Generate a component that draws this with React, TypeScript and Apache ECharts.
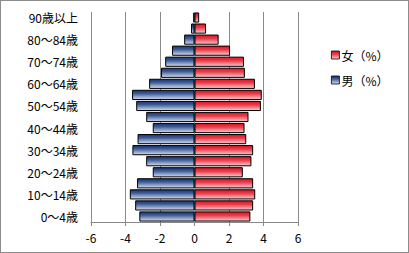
import React, { useEffect, useRef } from "react";
import * as echarts from "echarts";

const categories = [
  "0〜4歳", "5〜9歳", "10〜14歳", "15〜19歳", "20〜24歳", "25〜29歳", "30〜34歳",
  "35〜39歳", "40〜44歳", "45〜49歳", "50〜54歳", "55〜59歳", "60〜64歳", "65〜69歳",
  "70〜74歳", "75〜79歳", "80〜84歳", "85〜89歳", "90歳以上",
];
const maleValues = [
  -3.2, -3.44, -3.75, -3.33, -2.42, -2.8, -3.6, -3.3, -2.42, -2.8,
  -3.38, -3.62, -2.63, -1.94, -1.7, -1.3, -0.6, -0.2, -0.07,
];
const femaleValues = [
  3.24, 3.4, 3.52, 3.4, 2.8, 3.3, 3.4, 3.0, 2.9, 3.13,
  3.85, 3.9, 3.5, 2.92, 2.87, 2.06, 1.4, 0.67, 0.27,
];
const xTicks = { min: -6, max: 6, interval: 2 };
const femaleName = "女（%）";
const maleName = "男（%）";

const FONT = "'Noto Sans CJK JP', sans-serif";

export default function App() {
  const ref = useRef<HTMLDivElement>(null);
  useEffect(() => {
    if (!ref.current) return;
    const chart = echarts.init(ref.current, null, { renderer: "svg" });
    const blue = new echarts.graphic.LinearGradient(0, 0, 0, 1, [
      { offset: 0, color: "#1a3470" },
      { offset: 0.35, color: "#3c5a96" },
      { offset: 1, color: "#d6deef" },
    ]);
    const red = new echarts.graphic.LinearGradient(0, 0, 0, 1, [
      { offset: 0, color: "#e0101e" },
      { offset: 0.4, color: "#e8404c" },
      { offset: 1, color: "#f6ccd2" },
    ]);
    chart.setOption({
      animation: false,
      backgroundColor: "#ffffff",
      textStyle: { fontFamily: FONT },
      grid: { left: 90, right: 110, top: 11, bottom: 30, containLabel: false },
      legend: {
        orient: "vertical",
        left: 325,
        top: 43,
        itemWidth: 8,
        itemHeight: 8,
        itemGap: 13,
        data: [femaleName, maleName],
        textStyle: { fontSize: 12, color: "#000", fontFamily: FONT, padding: [0, 0, 0, -3] },
        icon: "rect",
        itemStyle: { borderColor: "#000", borderWidth: 0.8 },
      },
      xAxis: {
        type: "value",
        min: xTicks.min,
        max: xTicks.max,
        interval: xTicks.interval,
        axisLine: { show: true, onZero: false, lineStyle: { color: "#888", width: 1 } },
        axisTick: { show: true, length: 4, lineStyle: { color: "#888" } },
        axisLabel: { color: "#000", fontSize: 12, margin: 9, fontFamily: FONT },
        splitLine: {
          show: true,
          lineStyle: {
            color: ["#8a8a8a", "#8a8a8a", "#8a8a8a", "#7f9aa8", "#8a8a8a", "#8a8a8a", "#8a8a8a"],
            width: 1,
          },
        },
      },
      yAxis: {
        type: "category",
        data: categories,
        axisLine: { show: false },
        axisTick: { show: false },
        axisLabel: { interval: 1, color: "#000", fontSize: 12, margin: 13, fontFamily: FONT },
        splitLine: { show: false },
      },
      series: [
        {
          name: femaleName,
          type: "bar",
          data: femaleValues,
          barGap: "-100%",
          barCategoryGap: "8%",
          itemStyle: { color: red, borderColor: "#000", borderWidth: 1 },
        },
        {
          name: maleName,
          type: "bar",
          data: maleValues,
          barGap: "-100%",
          barCategoryGap: "8%",
          itemStyle: { color: blue, borderColor: "#000", borderWidth: 1 },
        },
      ],
    });
    return () => chart.dispose();
  }, []);
  return (
    <div
      ref={ref}
      style={{
        position: "fixed",
        left: 0,
        top: 0,
        width: 409,
        height: 253,
        boxSizing: "border-box",
        border: "1px solid #8c8c8c",
        background: "#fff",
      }}
    />
  );
}
